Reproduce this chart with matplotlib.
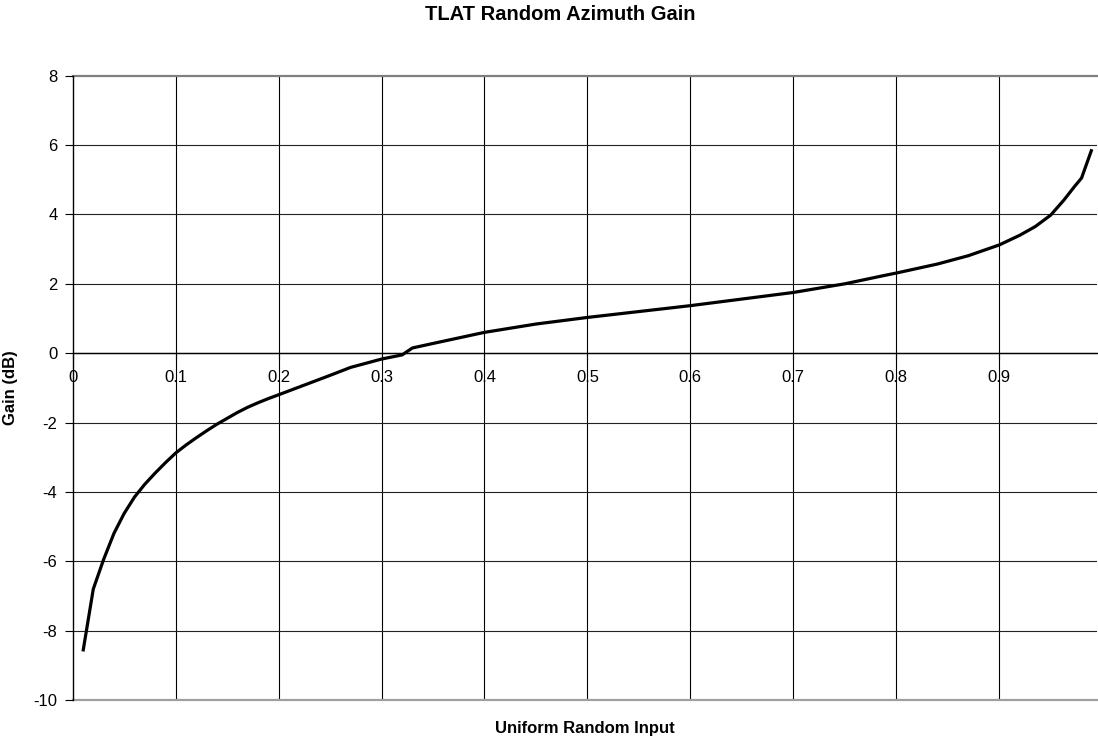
import matplotlib
matplotlib.use("Agg")
import matplotlib.pyplot as plt

plt.rcParams['font.family'] = ['Liberation Sans', 'DejaVu Sans']

# Data
uniform_input = [0.01, 0.02, 0.03, 0.04, 0.05, 0.06, 0.07, 0.08, 0.09, 0.1,
                 0.11, 0.12, 0.13, 0.14, 0.15, 0.16, 0.17, 0.18, 0.19, 0.2,
                 0.225, 0.25, 0.27, 0.3, 0.32, 0.33, 0.35, 0.4,
                 0.45, 0.5, 0.55, 0.6, 0.65, 0.7, 0.75, 0.79, 0.8, 0.84,
                 0.87, 0.9, 0.92, 0.935, 0.95, 0.963, 0.973, 0.98, 0.99]
gain_db = [-8.6, -6.8, -5.95, -5.2, -4.62, -4.15, -3.78, -3.46, -3.16, -2.88,
           -2.65, -2.44, -2.24, -2.05, -1.88, -1.71, -1.56, -1.43, -1.31, -1.2,
           -0.92, -0.64, -0.41, -0.17, -0.05, 0.15, 0.28, 0.60,
           0.84, 1.03, 1.20, 1.37, 1.56, 1.75, 2.0, 2.25, 2.31, 2.57,
           2.81, 3.12, 3.40, 3.65, 3.98, 4.42, 4.80, 5.05, 5.88]
x_ticks = [0, 0.1, 0.2, 0.3, 0.4, 0.5, 0.6, 0.7, 0.8, 0.9]
x_tick_labels = ['0', '0.1', '0.2', '0.3', '0.4', '0.5', '0.6', '0.7', '0.8', '0.9']
y_ticks = [-10, -8, -6, -4, -2, 0, 2, 4, 6, 8]

W, H = 1098, 738
fig = plt.figure(figsize=(W / 100, H / 100), dpi=100)
left, right, top, bottom = 72.7, 1097.0, 75.7, 700.0
ax = fig.add_axes([left / W, 1 - bottom / H, (right - left) / W, (bottom - top) / H])

ax.set_xlim(0, 0.995)
ax.set_ylim(-10, 8)

# gridlines
for xv in x_ticks[1:]:
    ax.axvline(xv, color='black', lw=0.8, zorder=1)
for yv in y_ticks[1:-1]:
    ax.axhline(yv, color='#222222', lw=0.8, zorder=1)
ax.axhline(8, color='#808080', lw=1.6, zorder=1, clip_on=False)
ax.axhline(-10, color='#a0a0a0', lw=1.6, zorder=1, clip_on=False)

ax.plot(uniform_input, gain_db, color='black', lw=2.3, zorder=3,
        solid_joinstyle='round', solid_capstyle='butt')

# spines
ax.spines['top'].set_visible(False)
ax.spines['right'].set_visible(False)
ax.spines['left'].set_color('black')
ax.spines['left'].set_linewidth(1.0)
ax.spines['bottom'].set_position(('data', 0))
ax.spines['bottom'].set_color('black')
ax.spines['bottom'].set_linewidth(1.0)

ax.set_xticks(x_ticks)
ax.set_xticklabels(x_tick_labels)
ax.set_yticks(y_ticks)
ax.set_yticklabels([str(v) for v in y_ticks])
ax.tick_params(axis='x', direction='out', length=5, width=0.8, pad=7, labelsize=12)
ax.tick_params(axis='y', direction='out', length=6, width=0.8, pad=5, labelsize=12)

ax.set_ylabel('Gain (dB)', fontsize=12, fontweight='bold', labelpad=11)
fig.text((left + right) / 2 / W, 1 - 728 / H, 'Uniform Random Input',
         ha='center', va='center', fontsize=12, fontweight='bold')
fig.text(560 / W, 1 - 15 / H, 'TLAT Random Azimuth Gain',
         ha='center', va='center', fontsize=14.5, fontweight='bold')

fig.savefig('out.png', dpi=100, facecolor='white')
